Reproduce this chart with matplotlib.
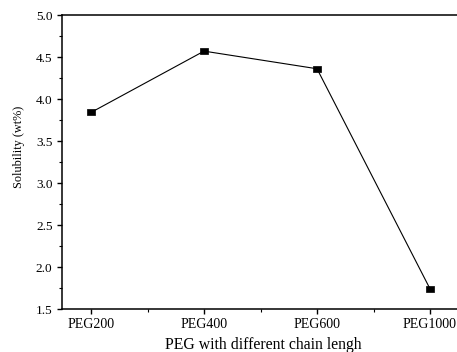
import matplotlib
matplotlib.use("Agg")
import matplotlib.pyplot as plt
from matplotlib.path import Path
from matplotlib.ticker import MultipleLocator, FixedLocator, FormatStrFormatter

categories = ["PEG200", "PEG400", "PEG600", "PEG1000"]
solubility = [3.84, 4.57, 4.36, 1.74]

plt.rcParams["font.family"] = ["Liberation Serif", "DejaVu Serif"]

# slightly wide square marker
box = Path([(-0.68, -0.5), (0.68, -0.5), (0.68, 0.5), (-0.68, 0.5), (-0.68, -0.5)],
           [Path.MOVETO, Path.LINETO, Path.LINETO, Path.LINETO, Path.CLOSEPOLY])

fig = plt.figure(figsize=(4.57, 3.52), dpi=100)
ax = fig.add_axes([62 / 457, 43 / 352, 400 / 457, 294 / 352])

x = list(range(len(categories)))
ax.plot(x, solubility, color="black", linewidth=0.8, marker=box,
        markersize=6, markeredgewidth=0.5,
        markerfacecolor="black", markeredgecolor="black")

ax.set_xlim(-0.257, 3.283)
ax.set_ylim(1.5, 5.0)
ax.set_xticks(x)
ax.set_xticklabels(categories, fontsize=10)
ax.xaxis.set_minor_locator(FixedLocator([0.5, 1.5, 2.5]))
ax.yaxis.set_major_locator(MultipleLocator(0.5))
ax.yaxis.set_minor_locator(MultipleLocator(0.25))
ax.yaxis.set_major_formatter(FormatStrFormatter("%.1f"))
for lab in ax.get_yticklabels():
    lab.set_fontsize(9.5)

ax.tick_params(which="major", direction="out", length=3.8, width=1, pad=3)
ax.tick_params(which="minor", direction="out", length=2.4, width=0.8)
ax.tick_params(top=False, right=False)
for s in ax.spines.values():
    s.set_linewidth(1.1)

ax.set_xlabel("PEG with different chain lengh", fontsize=11.3)
ax.xaxis.set_label_coords(0.504, -0.096)
ax.set_ylabel("Solubility (wt%)", fontsize=8.8)
ax.yaxis.set_label_coords(-0.0925, 0.551)

fig.savefig("out.png", dpi=100)
